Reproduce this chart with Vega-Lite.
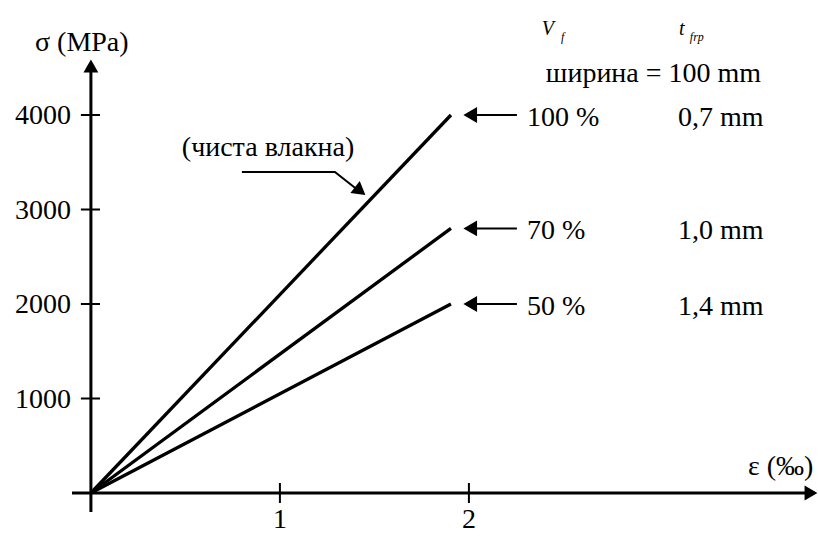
{
  "$schema": "https://vega.github.io/schema/vega-lite/v6.json",
  "width": 818,
  "height": 536,
  "padding": 0,
  "autosize": {"type": "none"},
  "background": "white",
  "config": {"view": {"stroke": null}, "text": {"font": "Liberation Serif", "fontSize": 28, "color": "black"}},
  "encoding": {
    "x": {"field": "x", "type": "quantitative", "scale": {"domain": [-0.481, 3.847], "zero": false, "nice": false}, "axis": null},
    "y": {"field": "y", "type": "quantitative", "scale": {"domain": [-455, 5217], "zero": false, "nice": false}, "axis": null}
  },
  "layer": [
    {
      "data": {"values": [
        {"x": -0.1, "y": 0, "x2": 3.8, "y2": 0},
        {"x": 0, "y": -201, "x2": 0, "y2": 4510}
      ]},
      "mark": {"type": "rule", "strokeWidth": 3, "color": "black"},
      "encoding": {"x2": {"field": "x2"}, "y2": {"field": "y2"}}
    },
    {
      "data": {"values": [
        {"x": 1, "y": -106, "x2": 1, "y2": 106},
        {"x": 2, "y": -106, "x2": 2, "y2": 106},
        {"x": -0.053, "y": 1000, "x2": 0.048, "y2": 1000},
        {"x": -0.053, "y": 2000, "x2": 0.048, "y2": 2000},
        {"x": -0.053, "y": 3000, "x2": 0.048, "y2": 3000},
        {"x": -0.053, "y": 4000, "x2": 0.048, "y2": 4000}
      ]},
      "mark": {"type": "rule", "strokeWidth": 2, "color": "black"},
      "encoding": {"x2": {"field": "x2"}, "y2": {"field": "y2"}}
    },
    {
      "data": {"values": [
        {"x": 3.81, "y": 0, "shape": "triangle-right"},
        {"x": 0, "y": 4519, "shape": "triangle-up"}
      ]},
      "mark": {"type": "point", "filled": true, "size": 220, "color": "black", "opacity": 1},
      "encoding": {"shape": {"field": "shape", "type": "nominal", "scale": null}}
    },
    {
      "data": {"values": [
        {"series": "100 %", "x": 0, "y": 0, "x2": 1.905, "y2": 4000},
        {"series": "70 %", "x": 0, "y": 0, "x2": 1.905, "y2": 2800},
        {"series": "50 %", "x": 0, "y": 0, "x2": 1.905, "y2": 2000}
      ]},
      "mark": {"type": "rule", "strokeWidth": 3.3, "color": "black"},
      "encoding": {"x2": {"field": "x2"}, "y2": {"field": "y2"}}
    },
    {
      "data": {"values": [
        {"x": 1.99, "y": 4000, "x2": 2.254, "y2": 4000},
        {"x": 1.99, "y": 2800, "x2": 2.254, "y2": 2800},
        {"x": 1.99, "y": 2000, "x2": 2.254, "y2": 2000}
      ]},
      "mark": {"type": "rule", "strokeWidth": 2, "color": "black"},
      "encoding": {"x2": {"field": "x2"}, "y2": {"field": "y2"}}
    },
    {
      "data": {"values": [
        {"x": 2.007, "y": 4000},
        {"x": 2.007, "y": 2800},
        {"x": 2.007, "y": 2000}
      ]},
      "mark": {"type": "point", "shape": "triangle-left", "filled": true, "size": 250, "color": "black", "opacity": 1}
    },
    {
      "data": {"values": [
        {"x": 0.799, "y": 3397, "o": 1},
        {"x": 1.291, "y": 3397, "o": 2},
        {"x": 1.402, "y": 3223, "o": 3}
      ]},
      "mark": {"type": "line", "strokeWidth": 2, "color": "black"},
      "encoding": {"order": {"field": "o", "type": "quantitative"}}
    },
    {
      "data": {"values": [{"x": 1.425, "y": 3195}]},
      "mark": {"type": "point", "shape": "triangle-up", "angle": 128, "filled": true, "size": 230, "color": "black", "opacity": 1}
    },
    {
      "data": {"values": [
        {"x": -0.106, "y": 1000, "t": "1000"},
        {"x": -0.106, "y": 2000, "t": "2000"},
        {"x": -0.106, "y": 3000, "t": "3000"},
        {"x": -0.106, "y": 4000, "t": "4000"}
      ]},
      "mark": {"type": "text", "font": "Liberation Serif", "fontSize": 28, "align": "right", "baseline": "middle", "dy": 1},
      "encoding": {"text": {"field": "t"}}
    },
    {
      "data": {"values": [
        {"x": 1, "y": -290, "t": "1"},
        {"x": 2, "y": -290, "t": "2"}
      ]},
      "mark": {"type": "text", "font": "Liberation Serif", "fontSize": 28, "align": "center", "baseline": "middle"},
      "encoding": {"text": {"field": "t"}}
    },
    {
      "data": {"values": [
        {"x": -0.296, "y": 4762, "t": "σ (MPa)"},
        {"x": 3.476, "y": 275, "t": "ε (‰)"},
        {"x": 2.307, "y": 3970, "t": "100 %"},
        {"x": 2.307, "y": 2770, "t": "70 %"},
        {"x": 2.307, "y": 1970, "t": "50 %"},
        {"x": 3.106, "y": 3970, "t": "0,7 mm"},
        {"x": 3.106, "y": 2770, "t": "1,0 mm"},
        {"x": 3.106, "y": 1970, "t": "1,4 mm"},
        {"x": 2.407, "y": 4434, "t": "ширина = 100 mm"}
      ]},
      "mark": {"type": "text", "font": "Liberation Serif", "fontSize": 28, "align": "left", "baseline": "middle"},
      "encoding": {"text": {"field": "t"}}
    },
    {
      "data": {"values": [
        {"x": 0.937, "y": 3650, "t": "(чиста влакна)"}
      ]},
      "mark": {"type": "text", "font": "Liberation Serif", "fontSize": 28, "align": "center", "baseline": "middle"},
      "encoding": {"text": {"field": "t"}}
    },
    {
      "data": {"values": [
        {"x": 2.386, "y": 4847, "t": "V"},
        {"x": 3.111, "y": 4847, "t": "t"}
      ]},
      "mark": {"type": "text", "font": "Liberation Serif", "align": "left", "baseline": "alphabetic", "fontStyle": "italic", "fontSize": 20},
      "encoding": {"text": {"field": "t"}}
    },
    {
      "data": {"values": [
        {"x": 2.487, "y": 4783, "t": "f"},
        {"x": 3.169, "y": 4783, "t": "frp"}
      ]},
      "mark": {"type": "text", "font": "Liberation Serif", "align": "left", "baseline": "alphabetic", "fontStyle": "italic", "fontSize": 12},
      "encoding": {"text": {"field": "t"}}
    }
  ]
}
